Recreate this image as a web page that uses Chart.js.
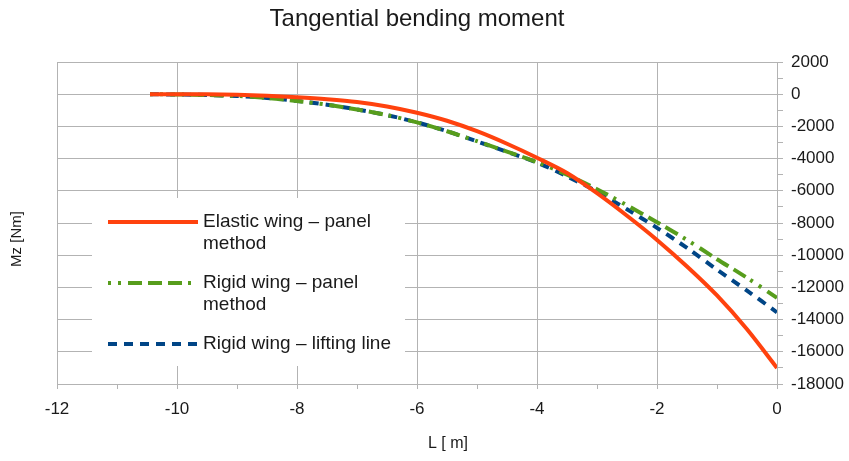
<!DOCTYPE html>
<html>
<head>
<meta charset="utf-8">
<script src="https://cdn.jsdelivr.net/npm/chart.js@4"></script>
<style>
  html, body { margin: 0; padding: 0; background: #fff; }
  #wrap { width: 849px; height: 461px; position: relative; }
</style>
</head>
<body>
<div id="wrap"><canvas id="grafico"></canvas></div>
<script>
// positions along the span [m]
const L = [-10.45, -10, -9.5, -9, -8.5, -8, -7.5, -7, -6.5, -6, -5.5, -5, -4.5, -4, -3.5, -3, -2.5, -2, -1.5, -1, -0.5, 0];

// tangential bending moment [Nm]
const elasticPanel = [0, 0, -10, -40, -100, -190, -310, -480, -760, -1150, -1650, -2300, -3080, -3950, -4900, -6150, -7550, -9050, -10700, -12500, -14600, -17000];
const rigidPanel = [0, -20, -50, -110, -230, -420, -650, -950, -1300, -1750, -2300, -2920, -3560, -4220, -5000, -5900, -6900, -7950, -9050, -10250, -11400, -12650];
const rigidLifting = [0, -20, -50, -110, -230, -420, -650, -950, -1300, -1750, -2300, -2930, -3580, -4250, -5100, -6050, -7150, -8300, -9550, -10900, -12200, -13550];

const seriesNames = ['Elastic wing – panel method', 'Rigid wing – panel method', 'Rigid wing – lifting line'];

const chartTitle = 'Tangential bending moment';
const xTitle = 'L [ m]';
const yTitle = 'Mz [Nm]';

const FONT = '"Liberation Sans", Arial, sans-serif';
const GRID = '#b3b3b3';
const TEXT = '#1a1a1a';

function pontos(ys) {
    return L.map((x, i) => ({ x: x, y: ys[i] }));
}

// desenha titulo, titulo do eixo y e a legenda dentro do grafico
const extras = {
    id: 'extras',
    afterDraw(chart) {
        const ctx = chart.ctx;
        const area = chart.chartArea;
        ctx.save();

        ctx.fillStyle = TEXT;
        ctx.textAlign = 'center';
        ctx.textBaseline = 'middle';
        ctx.font = '24px ' + FONT;
        ctx.fillText(chartTitle, (area.left + area.right) / 2, 19);

        ctx.font = '16px ' + FONT;
        ctx.fillText(xTitle, 448, 444);

        ctx.font = '15px ' + FONT;
        ctx.translate(17, 239);
        ctx.rotate(-Math.PI / 2);
        ctx.fillText(yTitle, 0, 0);
        ctx.setTransform(1, 0, 0, 1, 0, 0);

        // legenda
        ctx.fillStyle = '#ffffff';
        ctx.fillRect(92, 198, 313, 168);

        ctx.font = '19px ' + FONT;
        ctx.textAlign = 'left';
        let y = 222;
        chart.data.datasets.forEach(ds => {
            ctx.strokeStyle = ds.borderColor;
            ctx.lineWidth = ds.borderWidth;
            ctx.setLineDash(ds.borderDash || []);
            ctx.beginPath();
            ctx.moveTo(108, y);
            ctx.lineTo(198, y);
            ctx.stroke();
            ctx.setLineDash([]);

            // quebra o texto se for muito largo
            const linhas = [];
            let atual = '';
            ds.label.split(' ').forEach(p => {
                const teste = atual ? atual + ' ' + p : p;
                if (ctx.measureText(teste).width > 200 && atual) {
                    linhas.push(atual);
                    atual = p;
                } else {
                    atual = teste;
                }
            });
            linhas.push(atual);

            ctx.fillStyle = TEXT;
            linhas.forEach((t, i) => ctx.fillText(t, 203, y + i * 22));
            y += linhas.length * 22 + 17;
        });

        ctx.restore();
    }
};

const ctx = document.getElementById('grafico').getContext('2d');
const myChart = new Chart(ctx, {
    type: 'line',
    data: {
        datasets: [{
            label: seriesNames[0],
            data: pontos(elasticPanel),
            borderColor: '#ff420e',
            borderWidth: 4
        }, {
            label: seriesNames[1],
            data: pontos(rigidPanel),
            borderColor: '#579d1c',
            borderWidth: 4,
            borderDash: [3, 7, 3, 7, 14, 6, 14, 6, 14, 6]
        }, {
            label: seriesNames[2],
            data: pontos(rigidLifting),
            borderColor: '#004586',
            borderWidth: 4,
            borderDash: [9, 7]
        }]
    },
    options: {
        responsive: true,
        maintainAspectRatio: false,
        animation: false,
        events: [],
        layout: { padding: { left: 57, top: 62, right: 0, bottom: 0 } },
        elements: {
            point: { radius: 0 },
            line: { tension: 0.3, fill: false }
        },
        plugins: {
            legend: { display: false },
            title: { display: false },
            tooltip: { enabled: false }
        },
        scales: {
            x: {
                type: 'linear',
                min: -12,
                max: 0,
                border: { color: GRID },
                grid: {
                    color: c => (c.tick && c.tick.value % 2 === 0) ? GRID : 'rgba(0,0,0,0)',
                    tickColor: GRID,
                    tickLength: 5
                },
                ticks: {
                    stepSize: 1,
                    autoSkip: false,
                    maxRotation: 0,
                    padding: 10,
                    color: TEXT,
                    font: { family: FONT, size: 17 },
                    callback: v => v % 2 === 0 ? String(v) : ''
                },
                afterFit: scale => { scale.height = 461 - 384; }
            },
            y: {
                position: 'right',
                min: -18000,
                max: 2000,
                border: { color: GRID },
                grid: {
                    color: c => (c.tick && c.tick.value % 2000 === 0) ? GRID : 'rgba(0,0,0,0)',
                    tickColor: GRID,
                    tickLength: 6
                },
                ticks: {
                    stepSize: 1000,
                    autoSkip: false,
                    padding: 8,
                    color: TEXT,
                    font: { family: FONT, size: 17 },
                    callback: v => v % 2000 === 0 ? String(v) : ''
                },
                afterFit: scale => { scale.width = 849 - 777; }
            }
        }
    },
    plugins: [extras]
});
</script>
</body>
</html>
